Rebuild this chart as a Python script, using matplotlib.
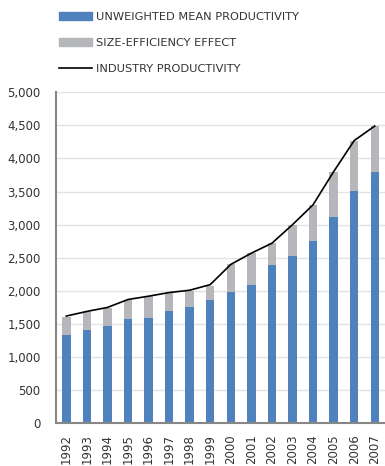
import matplotlib
matplotlib.use("Agg")
import matplotlib.pyplot as plt
from matplotlib.patches import Patch
from matplotlib.lines import Line2D
from matplotlib.ticker import FuncFormatter

years = [str(y) for y in range(1992, 2008)]
unweighted_mean = [1330, 1405, 1465, 1570, 1585, 1700, 1750, 1870,
                   1990, 2085, 2390, 2525, 2750, 3110, 3505, 3790]
size_efficiency = [275, 275, 280, 295, 335, 270, 255, 210,
                   410, 485, 330, 475, 550, 690, 765, 695]
industry = [1620, 1690, 1750, 1870, 1920, 1975, 2010, 2095,
            2400, 2570, 2720, 3000, 3300, 3800, 4270, 4490]

BLUE = "#4f81bd"
GREY = "#b5b7ba"

fig = plt.figure(figsize=(3.85, 4.66), dpi=100)
ax = fig.add_axes([0.1455, 0.0916, 0.8545, 0.7104])

xs = range(len(years))
ax.bar(xs, unweighted_mean, width=0.41, color=BLUE, zorder=2)
ax.bar(xs, size_efficiency, width=0.41, bottom=unweighted_mean, color=GREY, zorder=2)
ax.plot(xs, industry, color="black", lw=1.2, zorder=3)

ax.set_xlim(-0.5, len(years) - 0.5)
ax.set_ylim(0, 5000)
ax.set_yticks(range(0, 5001, 500))
ax.yaxis.set_major_formatter(FuncFormatter(lambda v, p: f"{int(v):,}"))
ax.set_xticks(list(xs))
ax.set_xticklabels(years, rotation=90)
ax.tick_params(axis="both", length=0, labelsize=8.5, colors="#333333")
ax.tick_params(axis="y", pad=11)
ax.tick_params(axis="x", pad=8)
ax.grid(axis="y", color="#e3e3e3", lw=1, zorder=0)
for side in ("top", "right"):
    ax.spines[side].set_visible(False)
for side in ("left", "bottom"):
    ax.spines[side].set_color("#878787")
    ax.spines[side].set_linewidth(1.5)

handles = [Patch(color=BLUE), Patch(color=GREY), Line2D([], [], color="black", lw=1.2)]
labels = ["UNWEIGHTED MEAN PRODUCTIVITY", "SIZE-EFFICIENCY EFFECT", "INDUSTRY PRODUCTIVITY"]
fig.legend(handles, labels, loc="upper left", bbox_to_anchor=(0.127, 0.996),
           frameon=False, handlelength=2.9, handleheight=0.75, handletextpad=0.3,
           labelspacing=1.38, prop={"family": "Liberation Sans Narrow", "size": 8.2},
           labelcolor="#333333")

fig.savefig("out.png", dpi=100)
